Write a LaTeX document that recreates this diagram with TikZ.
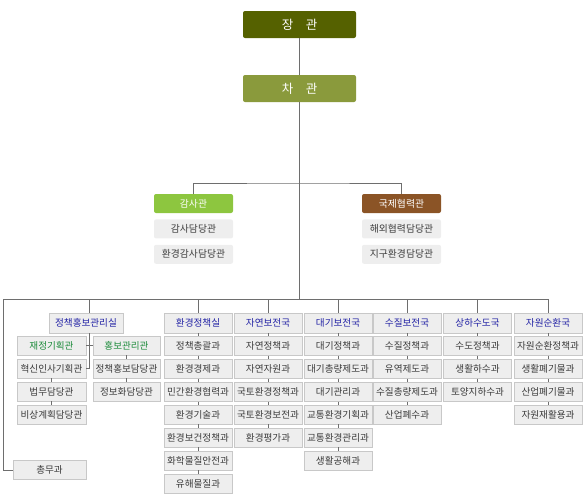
\documentclass[tikz,border=0pt]{standalone}
\usepackage{fontspec}
\setmainfont{Noto Sans CJK KR}
\usetikzlibrary{positioning}
\definecolor{ministerc}{RGB}{85,97,0}
\definecolor{vicec}{RGB}{138,154,60}
\definecolor{auditc}{RGB}{141,198,63}
\definecolor{intlc}{RGB}{139,84,38}
\definecolor{boxfill}{RGB}{238,238,238}
\definecolor{boxline}{RGB}{200,200,200}
\definecolor{linegray}{RGB}{110,110,110}
\definecolor{headblue}{RGB}{35,35,165}
\definecolor{subgreen}{RGB}{30,140,60}
\definecolor{unitgray}{RGB}{60,60,60}

\begin{document}
\begin{tikzpicture}[x=1pt, y=-1pt,
    link/.style={draw=linegray, line width=1pt},
    boss/.style={fill=#1, rounded corners=2pt, minimum width=113pt, minimum height=27pt, text=white, font=\fontsize{12.5}{14}\selectfont},
    staff/.style={fill=#1, rounded corners=2pt, minimum width=79pt, minimum height=19pt, inner sep=0.3pt, font=\fontsize{9.8}{11}\selectfont},
    unit/.style={draw=boxline, fill=boxfill, minimum width=68pt, minimum height=19pt, inner sep=0.3pt, text=unitgray, font=\fontsize{9.6}{11}\selectfont},
    head/.style={unit, minimum height=20pt, text=headblue},
    sub/.style={unit, text=subgreen}]
  \useasboundingbox (0,0) rectangle (586,493);
  % minister and vice minister
  \node[boss=ministerc] (minister) at (299.5,24.5) {장\hspace{1em}관};
  \node[boss=vicec] (vice) at (299.5,88.5) {차\hspace{1em}관};
  % audit and international cooperation
  \node[staff=auditc, text=white] (audit) at (193.5,203.5) {감사관};
  \node[staff=boxfill, text=unitgray, below=6pt of audit] (audit1) {감사담당관};
  \node[staff=boxfill, text=unitgray, below=6pt of audit1] (audit2) {환경감사담당관};
  \node[staff=intlc, text=white] (intl) at (401.5,203.5) {국제협력관};
  \node[staff=boxfill, text=unitgray, below=6pt of intl] (intl1) {해외협력담당관};
  \node[staff=boxfill, text=unitgray, below=6pt of intl1] (intl2) {지구환경담당관};
  \coordinate (topbar) at (299,183);
  \coordinate (busL) at (3,299);
  \coordinate (spine) at (89.5,333);
  \draw[link] (minister) -- (vice);
  \draw[link] (vice.south) -- (vice.south |- busL);
  \draw[link] (audit.north) |- (topbar) -| (intl.north);
  % policy office
  \node[head, minimum width=74pt] (policy) at (86,323) {정책홍보관리실};
  \node[sub, minimum width=69pt] (plan) at (51.5,345.5) {재정기획관};
  \node[unit, minimum width=69pt] (innov) at (51.5,368.5) {혁신인사기획관};
  \node[unit, minimum width=69pt] (legal) at (51.5,391.5) {법무담당관};
  \node[unit, minimum width=69pt] (emerg) at (51.5,414.5) {비상계획담당관};
  \node[sub, minimum width=67pt] (pr) at (126.5,345.5) {홍보관리관};
  \node[unit, minimum width=67pt] (pr1) at (126.5,368.5) {정책홍보담당관};
  \node[unit, minimum width=67pt] (pr2) at (126.5,391.5) {정보화담당관};
  \node[unit, minimum width=73pt] (general) at (49.5,470) {총무과};
  \draw[link] (spine |- busL) -- (spine |- policy.north);
  \draw[link] (spine) |- (innov.east);
  \draw[link] (plan.east) -- (pr.west);
  \draw[link] (innov) -- (legal);
  \draw[link] (legal) -- (emerg);
  \draw[link] (pr) -- (pr1);
  \draw[link] (pr1) -- (pr2);
  % bureaus
  \foreach \c/\x/\h/\units in {
      1/198/환경정책실/{정책총괄과,환경경제과,민간환경협력과,환경기술과,환경보건정책과,화학물질안전과,유해물질과},
      2/268/자연보전국/{자연정책과,자연자원과,국토환경정책과,국토환경보전과,환경평가과},
      3/338/대기보전국/{대기정책과,대기총량제도과,대기관리과,교통환경기획과,교통환경관리과,생활공해과},
      4/407/수질보전국/{수질정책과,유역제도과,수질총량제도과,산업폐수과},
      5/477.5/상하수도국/{수도정책과,생활하수과,토양지하수과},
      6/548/자원순환국/{자원순환정책과,생활폐기물과,산업폐기물과,자원재활용과}} {
    \node[head] (c\c-0) at (\x,323) {\h};
    \draw[link] (c\c-0.north) -- (c\c-0.north |- busL);
    \foreach \u [count=\i] in \units {
      \pgfmathtruncatemacro\prev{\i-1}
      \node[unit] (c\c-\i) at (\x,{346+22.9*(\i-1)}) {\u};
      \draw[link] (c\c-\prev.south) -- (c\c-\i.north);
    }
  }
  % bus
  \draw[link] (general.west) -| (busL) -- (c6-0.north |- busL);
\end{tikzpicture}
\end{document}
